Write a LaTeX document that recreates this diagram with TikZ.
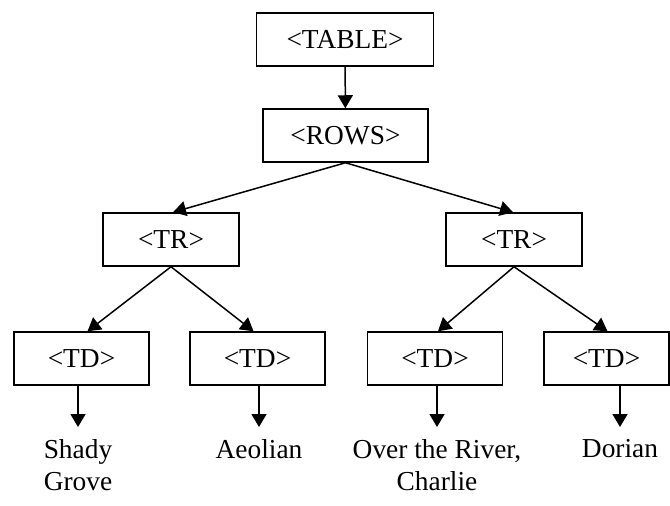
\documentclass[tikz,border=0pt]{standalone}
\usepackage{fontspec}
\setmainfont{Liberation Serif}
\usetikzlibrary{arrows.meta}
\begin{document}
\begin{tikzpicture}[x=1bp,y=-1bp,
  font=\fontsize{27.5}{32}\selectfont,
  tag/.style={draw, line width=1.5bp, minimum height=53bp, inner sep=0pt},
  leaf/.style={align=center, anchor=north, inner xsep=0pt, inner ysep=12bp},
  arr/.style={line width=1.5bp, -{Triangle[length=13bp,width=15bp]}}]
\useasboundingbox (0,0) rectangle (670,506);
% element boxes
\node[tag, minimum width=177bp] (table) at (345,39.5) {<TABLE>};
\node[tag, minimum width=165bp] (rows)  at (345.5,135.5) {<ROWS>};
\node[tag, minimum width=136bp] (tr1)   at (171,239.5) {<TR>};
\node[tag, minimum width=136bp] (tr2)   at (514,239.5) {<TR>};
\node[tag, minimum width=135bp] (td1)   at (81.5,358.5) {<TD>};
\node[tag, minimum width=135bp] (td2)   at (257.5,358.5) {<TD>};
\node[tag, minimum width=135bp] (td3)   at (435,358.5) {<TD>};
\node[tag, minimum width=125bp] (td4)   at (606.5,358.5) {<TD>};
% cell contents
\node[leaf] (l1) at (78,427)  {Shady\\Grove};
\node[leaf] (l2) at (259,427) {Aeolian};
\node[leaf] (l3) at (437,427) {Over the River,\\Charlie};
\node[leaf] (l4) at (620,427) {Dorian};
% tree edges
\draw[arr] (table) -- (rows);
\draw[arr] (rows.south) -- ([xshift=2bp]tr1.north);
\draw[arr] (rows.south) -- ([xshift=-1bp]tr2.north);
\draw[arr] (tr1.south) -- ([xshift=6bp]td1.north);
\draw[arr] (tr1.south) -- ([xshift=-4bp]td2.north);
\draw[arr] (tr2.south) -- ([xshift=3bp]td3.north);
\draw[arr] (tr2.south) -- ([xshift=1bp]td4.north);
\draw[arr] (td1.south -| l1.north) -- (l1.north);
\draw[arr] (td2.south -| l2.north) -- (l2.north);
\draw[arr] (td3.south -| l3.north) -- (l3.north);
\draw[arr] (td4.south -| l4.north) -- (l4.north);
\end{tikzpicture}
\end{document}
